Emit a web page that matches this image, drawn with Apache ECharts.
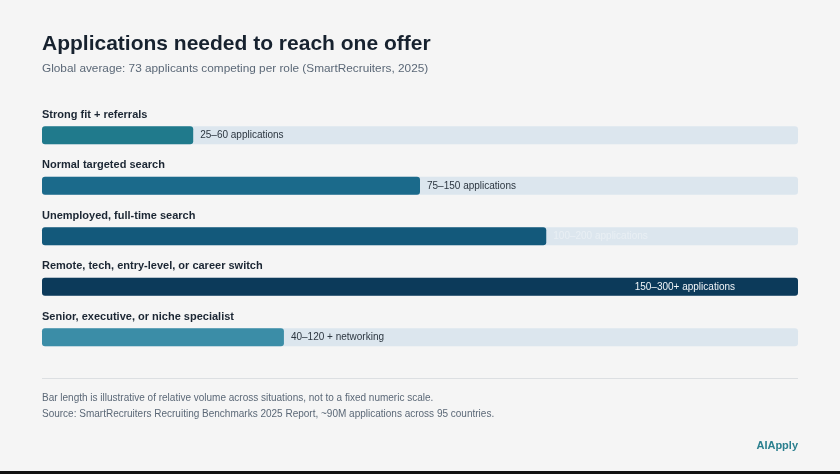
<!DOCTYPE html>
<html>
<head>
<meta charset="utf-8">
<script src="https://cdn.jsdelivr.net/npm/echarts@6/dist/echarts.min.js"></script>
<style>
    html,body{margin:0;padding:0;background:#f5f5f5;}
    #chart{width:840px;height:471px;border-bottom:3px solid #111;}
</style>
</head>
<body>
<div id="chart"></div>
<script>
"use strict";

// 数据
var categories = [
    'Strong fit + referrals',
    'Normal targeted search',
    'Unemployed, full-time search',
    'Remote, tech, entry-level, or career switch',
    'Senior, executive, or niche specialist'
];
var relVolume = [20, 50, 66.7, 100, 32];
var rangeLabels = [
    '25–60 applications',
    '75–150 applications',
    '100–200 applications',
    '150–300+ applications',
    '40–120 + networking'
];
var barColors = ['#207a8c', '#1b6a8b', '#13597b', '#0c3a5a', '#3b8da7'];
var labelColors = ['#2c3640', '#2c3640', '#e9eff4', '#f2f6f9', '#2c3640'];

var FONT = '"Liberation Sans", Arial, Helvetica, sans-serif';

var myChart = echarts.init(document.getElementById('chart'));

var seriesData = relVolume.map(function(v, i){
    var inside = (v >= 100);
    return {
        value: v,
        itemStyle: {color: barColors[i]},
        label: {
            show: true,
            formatter: rangeLabels[i],
            position: inside ? 'insideRight' : 'right',
            distance: inside ? 63 : 7,
            color: labelColors[i],
            fontSize: 10,
            fontFamily: FONT
        }
    };
});

var option = {
    backgroundColor: '#f5f5f5',
    animation: false,
    title: [
        {
            text: 'Applications needed to reach one offer',
            subtext: 'Global average: 73 applicants competing per role (SmartRecruiters, 2025)',
            left: 37,
            top: 29,
            itemGap: 8,
            textStyle: {fontSize: 21, fontWeight: 'bold', color: '#17222f', fontFamily: FONT},
            subtextStyle: {fontSize: 11.8, color: '#5b6877', fontFamily: FONT}
        },
        {
            text: 'Bar length is illustrative of relative volume across situations, not to a fixed numeric scale.\nSource: SmartRecruiters Recruiting Benchmarks 2025 Report, ~90M applications across 95 countries.',
            left: 37,
            top: 385,
            textStyle: {fontSize: 10, fontWeight: 'normal', color: '#5b6877', lineHeight: 16, fontFamily: FONT}
        },
        {
            text: 'AIApply',
            right: 37,
            top: 435,
            textStyle: {fontSize: 11, fontWeight: 'bold', color: '#2a7f8e', fontFamily: FONT}
        }
    ],
    graphic: [
        {
            type: 'line',
            shape: {x1: 42, y1: 378.5, x2: 798, y2: 378.5},
            style: {stroke: '#dcdfe2', lineWidth: 1}
        }
    ],
    grid: {left: 42, right: 42, top: 110, height: 252.5, containLabel: false},
    xAxis: {
        type: 'value',
        min: 0,
        max: 100,
        show: false
    },
    yAxis: {
        type: 'category',
        inverse: true,
        data: categories,
        axisLine: {show: false},
        axisTick: {show: false},
        axisLabel: {
            inside: true,
            margin: 0,
            align: 'left',
            verticalAlign: 'bottom',
            padding: [0, 0, 15, 0],
            fontSize: 11,
            fontWeight: 'bold',
            color: '#1b2633',
            fontFamily: FONT
        }
    },
    series: [
        {
            type: 'bar',
            barWidth: 18,
            data: seriesData,
            showBackground: true,
            backgroundStyle: {color: '#dce6ee', borderRadius: 3},
            itemStyle: {borderRadius: 3}
        }
    ]
};

myChart.setOption(option, true);
</script>
</body>
</html>
